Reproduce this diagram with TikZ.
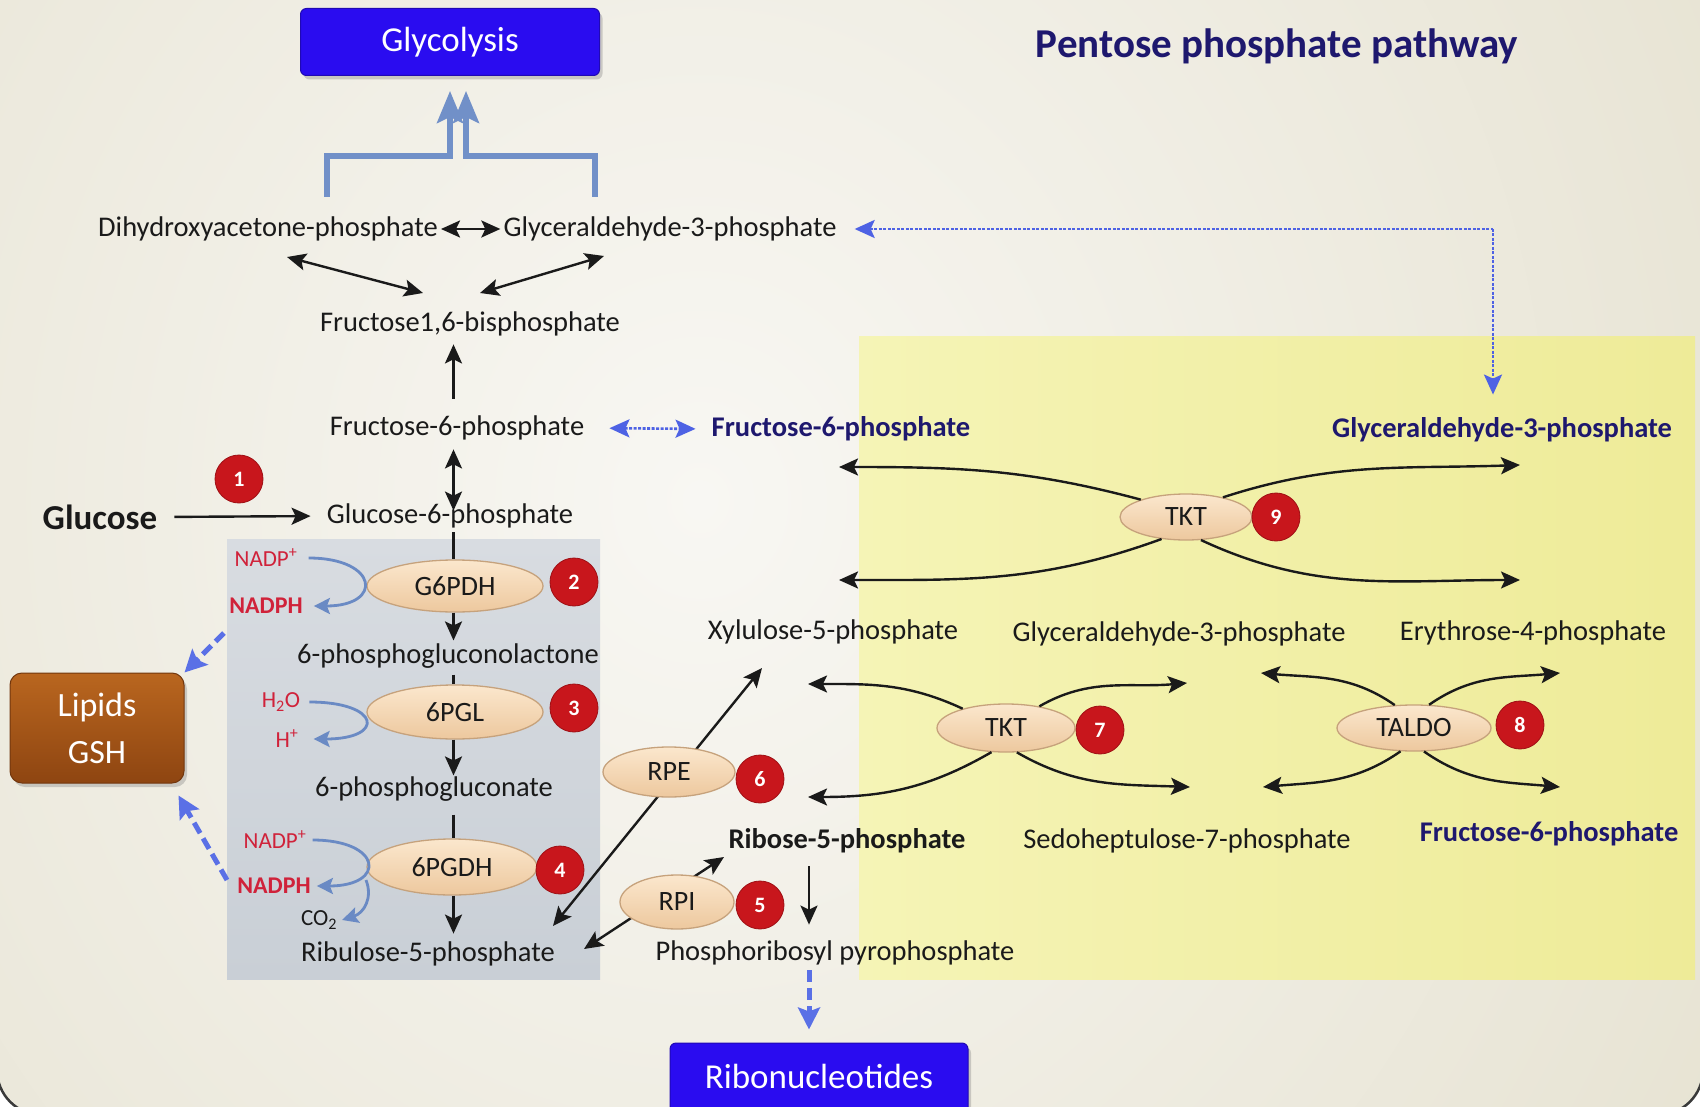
\documentclass[tikz,border=0pt]{standalone}
\usepackage{fontspec}
\setmainfont{Carlito}
\usepackage{tikz}
\usetikzlibrary{arrows.meta,shapes.geometric,shadows,calc}
\pgfdeclarelayer{bg}
\pgfdeclarelayer{mid}
\pgfsetlayers{bg,mid,main}

\definecolor{ink}{HTML}{1A1A1A}
\definecolor{navy}{HTML}{1E186E}
\definecolor{cofred}{HTML}{D0223A}
\definecolor{enzblue}{HTML}{6A8AC4}
\definecolor{dotblue}{HTML}{4E62E4}
\definecolor{dashblue}{HTML}{5A70E6}
\definecolor{brblue}{HTML}{7190C8}
\definecolor{boxblue}{HTML}{2A0CF0}
\definecolor{browntop}{HTML}{B9661F}
\definecolor{brownbot}{HTML}{8E4511}
\definecolor{enztop}{HTML}{FBE7CD}
\definecolor{enzbot}{HTML}{EDC89E}
\definecolor{enzline}{HTML}{C6A27C}
\definecolor{numred}{HTML}{C8161C}
\definecolor{numedge}{HTML}{9E0F14}
\definecolor{bgin}{HTML}{F8F7F3}
\definecolor{bgout}{HTML}{DFDAC4}
\definecolor{greytop}{HTML}{D8DCE1}
\definecolor{greybot}{HTML}{C9CFD6}
\definecolor{yelleft}{HTML}{F5F4B6}
\definecolor{yelright}{HTML}{EEEB98}
\definecolor{rimcol}{HTML}{3A3A3A}

\begin{document}
\begin{tikzpicture}[x=1pt,y=1pt,
  txt/.style={inner sep=1pt,text=ink,font=\fontsize{28.5}{32}\selectfont},
  btxt/.style={inner sep=1pt,text=navy,font=\fontsize{28.5}{32}\selectfont\bfseries},
  cof/.style={inner sep=1pt,text=cofred,font=\fontsize{23}{25}\selectfont},
  bcof/.style={inner sep=1pt,text=cofred,font=\fontsize{24}{26}\selectfont\bfseries},
  enz/.style={ellipse,draw=enzline,line width=1.3pt,top color=enztop,bottom color=enzbot,
     inner sep=0pt,text=ink,font=\fontsize{28}{30}\selectfont},
  num/.style={circle,fill=numred,draw=numedge,line width=0.8pt,minimum size=48pt,inner sep=0pt,
     text=white,font=\fontsize{22}{24}\selectfont\bfseries},
  bluebox/.style={rectangle,rounded corners=6pt,fill=boxblue,draw=boxblue!75!black,line width=1pt,
     text=white,font=\fontsize{35}{38}\selectfont,
     drop shadow={opacity=0.35,shadow xshift=3pt,shadow yshift=-4pt}},
  brownbox/.style={rectangle,rounded corners=12pt,top color=browntop,bottom color=brownbot,
     draw=brownbot!80!black,line width=1pt,text=white,align=center,
     font=\fontsize{34}{47}\selectfont,
     drop shadow={opacity=0.35,shadow xshift=3pt,shadow yshift=-4pt}},
  rxn/.style={draw=ink,line width=2.4pt,-{Stealth[length=19pt,width=17pt,inset=4pt]}},
  rxnboth/.style={draw=ink,line width=2.4pt,
     {Stealth[length=19pt,width=17pt,inset=4pt]}-{Stealth[length=19pt,width=17pt,inset=4pt]}},
  plain/.style={draw=ink,line width=2.4pt},
  cofarr/.style={draw=enzblue,line width=2.8pt,-{Stealth[length=16pt,width=16pt,inset=3pt]}},
  dotboth/.style={draw=dotblue,line width=2.6pt,dash pattern=on 3pt off 1.5pt,
     {Stealth[length=20pt,width=18pt,inset=4pt]}-{Stealth[length=20pt,width=18pt,inset=4pt]}},
  dotend/.style={draw=dotblue,line width=2.6pt,dash pattern=on 3pt off 1.5pt},
  dasharr/.style={draw=dashblue,line width=5pt,dash pattern=on 12pt off 6pt,
     -{Stealth[length=22pt,width=22pt,inset=4pt]}},
  bracket/.style={draw=brblue,line width=5.5pt,-{Stealth[length=32pt,width=26pt,inset=6pt]}},
  cvx/.style={draw=ink,line width=2.4pt,-{Stealth[length=19pt,width=17pt,inset=4pt]}}
]
\useasboundingbox (0,0) rectangle (1700,-1107);
\clip (0,0) rectangle (1700,-1107);

% ---------- backgrounds ----------
\begin{pgfonlayer}{bg}
  \fill[white] (0,0) rectangle (1700,-1107);
  \begin{scope}
    \clip[rounded corners=45pt] (-3,80) rectangle (1703,-1115);
    \shade[inner color=bgin,outer color=bgout] (-1000,-2400) rectangle (2400,1400);
  \end{scope}
  \draw[rimcol,line width=2.5pt,rounded corners=45pt] (-3,80) rectangle (1703,-1115);
  \shade[top color=greytop,bottom color=greybot] (227,-539) rectangle (600,-979);
  \shade[left color=yelleft,right color=yelright] (859,-336) rectangle (1695,-979);
\end{pgfonlayer}

% ---------- headline boxes ----------
\node[bluebox,minimum width=299pt,minimum height=67pt] (glyco) at (450,-42) {Glycolysis};
\node[font=\fontsize{41}{44}\selectfont\bfseries,text=navy] (title) at (1277,-46) {Pentose phosphate pathway};
\node[bluebox,minimum width=298pt,minimum height=76pt] (ribo) at (819,-1081) {\raisebox{10pt}{Ribonucleotides}};
\node[brownbox,minimum width=174pt,minimum height=110pt] (lipids) at (97,-728) {Lipids\\GSH};

% ---------- metabolites ----------
\node[txt] (dhap) at (268,-229) {Dihydroxyacetone-phosphate};
\node[txt] (gap1) at (670,-229) {Glyceraldehyde-3-phosphate};
\node[txt] (f16bp) at (470,-324) {Fructose1,6-bisphosphate};
\node[txt] (f6pL) at (457,-428) {Fructose-6-phosphate};
\node[btxt] (f6pB) at (841,-429) {Fructose-6-phosphate};
\node[btxt] (gapR) at (1502,-430) {Glyceraldehyde-3-phosphate};
\node[inner sep=1pt,text=ink,font=\fontsize{35}{38}\selectfont\bfseries] (glc) at (100,-517) {Glucose};
\node[txt] (g6p) at (450,-516) {Glucose-6-phosphate};
\node[txt] (lac) at (448,-656) {6-phosphogluconolactone};
\node[txt] (pg) at (434,-789) {6-phosphogluconate};
\node[txt] (ru5p) at (428,-954) {Ribulose-5-phosphate};
\node[txt] (xu5p) at (833,-632) {Xylulose-5-phosphate};
\node[inner sep=1pt,text=ink,font=\fontsize{28.5}{32}\selectfont\bfseries] (r5p) at (847,-841) {Ribose-5-phosphate};
\node[txt] (prpp) at (835,-953) {Phosphoribosyl pyrophosphate};
\node[txt] (gap2) at (1179,-634) {Glyceraldehyde-3-phosphate};
\node[txt] (s7p) at (1187,-841) {Sedoheptulose-7-phosphate};
\node[txt] (e4p) at (1533,-633) {Erythrose-4-phosphate};
\node[btxt] (f6pR) at (1549,-834) {Fructose-6-phosphate};

% ---------- cofactors ----------
\node[cof] (nadpA) at (266,-558) {NADP\textsuperscript{+}};
\node[bcof] (nadphA) at (266,-606) {NADPH};
\node[cof] (h2o) at (281,-702) {H\textsubscript{2}O};
\node[cof] (hplus) at (287,-739) {H\textsuperscript{+}};
\node[cof] (nadpB) at (275,-840) {NADP\textsuperscript{+}};
\node[bcof] (nadphB) at (274,-886) {NADPH};
\node[cof,text=ink] (co2) at (319,-920) {CO\textsubscript{2}};

% ---------- enzymes ----------
\node[enz,minimum width=176pt,minimum height=52pt] (g6pdh) at (455,-586) {G6PDH};
\node[enz,minimum width=176pt,minimum height=54pt] (pgl) at (455,-712) {6PGL};
\node[enz,minimum width=170pt,minimum height=56pt] (pgdh) at (452,-867) {6PGDH};
\node[enz,minimum width=132pt,minimum height=50pt] (rpe) at (669,-772) {RPE};
\node[enz,minimum width=114pt,minimum height=54pt] (rpi) at (677,-902) {RPI};
\node[enz,minimum width=132pt,minimum height=46pt] (tkt9) at (1186,-517) {TKT};
\node[enz,minimum width=138pt,minimum height=48pt] (tkt7) at (1006,-728) {TKT};
\node[enz,minimum width=154pt,minimum height=46pt] (taldo) at (1414,-728) {TALDO};

% ---------- step numbers ----------
\node[num] (n1) at (239,-479) {1};
\node[num] (n2) at (574,-582) {2};
\node[num] (n3) at (574,-708) {3};
\node[num] (n4) at (560,-870) {4};
\node[num] (n5) at (760,-905) {5};
\node[num] (n6) at (760,-779) {6};
\node[num] (n7) at (1100,-730) {7};
\node[num] (n8) at (1520,-725) {8};
\node[num] (n9) at (1276,-517) {9};

% ---------- glycolysis side ----------
\coordinate (brL) at (327,-197);
\coordinate (brR) at (595,-197);
\draw[bracket] (brL) |- ($(glyco.south)+(0,-80)$) -- ($(glyco.south)+(0,-15)$);
\draw[bracket] (brR) |- ($(glyco.south)+(16,-80)$) -- ($(glyco.south)+(16,-15)$);

\draw[rxnboth,shorten <=2pt,shorten >=2pt] (dhap.east) -- (gap1.west);
\coordinate (dA1) at (287,-257);
\coordinate (dA2) at (423,-293);
\coordinate (gA1) at (480,-293);
\coordinate (gA2) at (604,-256);
\draw[rxnboth] (dA1) -- (dA2);
\draw[rxnboth] (gA1) -- (gA2);

\coordinate (ax) at (453.5,0);
\draw[rxn,shorten <=16pt,shorten >=7pt] (f6pL.north -| ax) -- (f16bp.south -| ax);
\draw[rxnboth,shorten <=8pt,shorten >=-8pt] (f6pL.south -| ax) -- (g6p.north -| ax);
\draw[rxn,shorten <=16pt,shorten >=15pt] (glc.east) -- (g6p.west);

% ---------- oxidative branch ----------
\draw[plain,shorten <=3pt] (g6p.south -| ax) -- (g6pdh.north -| ax);
\draw[rxn,shorten >=2pt] (g6pdh.south -| ax) -- (lac.north -| ax);
\draw[plain,shorten <=5pt] (lac.south -| ax) -- (pgl.north -| ax);
\draw[rxn] (pgl.south -| ax) -- (pg.north -| ax);
\draw[plain,shorten <=12pt] (pg.south -| ax) -- (pgdh.north -| ax);
\draw[rxn,shorten >=7pt] (pgdh.south -| ax) -- (ru5p.north -| ax);

\draw[cofarr] ([xshift=10pt]nadpA.east) .. controls +(70,0) and +(70,0) .. ([xshift=10pt]nadphA.east);
\draw[cofarr] ([xshift=8pt]h2o.east) .. controls +(72,0) and +(72,0) .. ([xshift=14pt]hplus.east);
\draw[cofarr] ([xshift=5pt]nadpB.east) .. controls +(70,0) and +(70,0) .. ([xshift=5pt]nadphB.east);
\coordinate (cobr) at (366,-880);
\draw[cofarr] (cobr) .. controls (373,-898) and (364,-913) .. ([xshift=4pt]co2.east);

\coordinate (lipA) at (224,-633);
\coordinate (lipB) at (227,-880);
\draw[dasharr] (lipA) -- (lipids.north east);
\draw[dasharr] (lipB) -- ($(lipids.south east)+(-6,-12)$);

% ---------- non-oxidative branch ----------
\coordinate (rpeA) at (553,-926);
\coordinate (rpeB) at (762,-668);
\coordinate (rpiA) at (584,-949);
\coordinate (rpiB) at (724,-857);
\begin{pgfonlayer}{mid}
  \draw[rxnboth] (rpeA) -- (rpeB);
  \draw[rxnboth] (rpiA) -- (rpiB);
\end{pgfonlayer}

\coordinate (pc) at (809,0);
\draw[rxn,shorten <=12pt,shorten >=15pt] (r5p.south -| pc) -- (prpp.north -| pc);
\draw[dasharr,shorten <=4pt,shorten >=13pt] (prpp.south -| pc) -- (ribo.north -| pc);

\draw[dotboth,shorten <=24pt,shorten >=15pt] (f6pL.east) -- (f6pB.west);
\coordinate (gcorner) at (1493,-229);
\draw[dotend,{Stealth[length=20pt,width=18pt,inset=4pt]}-,shorten <=17pt] (gap1.east) -- (gcorner);
\draw[dotend,-{Stealth[length=20pt,width=18pt,inset=4pt]},shorten >=22pt] (gcorner) -- (gcorner |- gapR.north);

% transketolase (9)
\coordinate (t9a) at (839,-467);
\coordinate (t9b) at (1520,-465);
\coordinate (t9c) at (839,-580);
\coordinate (t9d) at (1520,-580);
\draw[cvx] (tkt9.159) to[out=165,in=0] (t9a);
\draw[cvx] (tkt9.28) to[out=18,in=182] (t9b);
\draw[cvx] (tkt9.222) to[out=200,in=0] (t9c);
\draw[cvx] (tkt9.303) to[out=-25,in=180] (t9d);

% transketolase (7)
\coordinate (t7a) at (808,-684);
\coordinate (t7b) at (1187,-683);
\coordinate (t7c) at (808,-797);
\coordinate (t7d) at (1190,-787);
\draw[cvx] (tkt7.156) to[out=155,in=0] (t7a);
\draw[cvx] (tkt7.33) to[out=30,in=185] (t7b);
\draw[cvx] (tkt7.239) to[out=210,in=0] (t7c);
\draw[cvx] (tkt7.294) to[out=-30,in=178] (t7d);

% transaldolase (8)
\coordinate (t8a) at (1261,-673);
\coordinate (t8b) at (1560,-673);
\coordinate (t8c) at (1263,-787);
\coordinate (t8d) at (1560,-787);
\draw[cvx] (taldo.130) to[out=145,in=-5] (t8a);
\draw[cvx] (taldo.57) to[out=35,in=185] (t8b);
\draw[cvx] (taldo.240) to[out=215,in=5] (t8c);
\draw[cvx] (taldo.293) to[out=-35,in=175] (t8d);
\end{tikzpicture}
\end{document}
